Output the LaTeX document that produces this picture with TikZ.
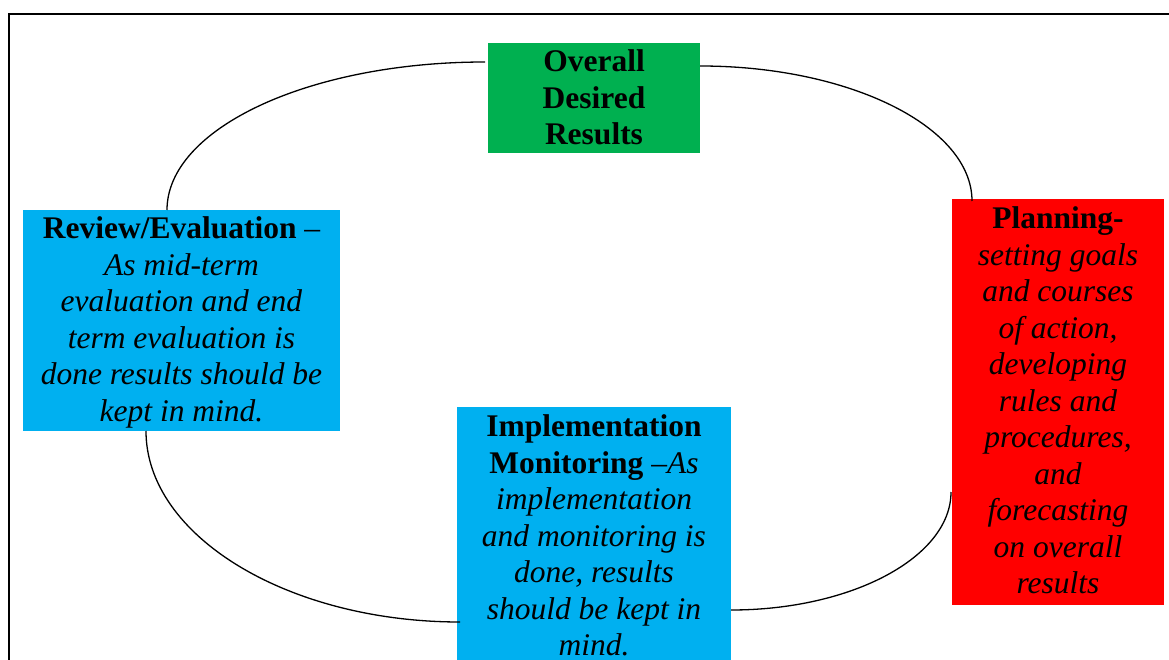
\documentclass[tikz,border=0pt]{standalone}
\usepackage{fontspec}
\setmainfont{Liberation Serif}
\definecolor{cgreen}{HTML}{00B050}
\definecolor{cblue}{HTML}{00B0F0}
\definecolor{cred}{HTML}{FF0000}
\begin{document}
\begin{tikzpicture}[x=1pt,y=-1pt,
  box/.style={anchor=north west, inner sep=0pt, outer sep=0pt},
  txt/.style={anchor=north, align=center, inner sep=0pt, font=\fontsize{31.5}{36.5}\selectfont},
  link/.style={line width=1.3pt}]
\clip (0,0) rectangle (1169,660);
\fill[white] (0,0) rectangle (1169,660);
\draw[line width=2pt] (9,700) -- (9,14) -- (1200,14);
% boxes
\node[box, fill=cgreen, minimum width=212pt, minimum height=110pt] (green) at (488,43) {};
\node[box, fill=cblue, minimum width=317pt, minimum height=221pt] (review) at (23,210) {};
\node[box, fill=cblue, minimum width=274pt, minimum height=280pt] (impl) at (457,407) {};
\node[box, fill=cred, minimum width=212pt, minimum height=406pt] (plan) at (952,199) {};
% texts
\node[txt] (tgreen) at (594,49.5) {\textbf{Overall}\\\textbf{Desired}\\\textbf{Results}};
\node[txt] (treview) at (181.5,216.5) {\textbf{Review/Evaluation} –\\\textit{As mid-term}\\\textit{evaluation and end}\\\textit{term evaluation is}\\\textit{done results should be}\\\textit{kept in mind.}};
\node[txt] (timpl) at (594,414.5) {\textbf{Implementation}\\\textbf{Monitoring} \textit{–As}\\\textit{implementation}\\\textit{and monitoring is}\\\textit{done, results}\\\textit{should be kept in}\\\textit{mind.}};
\node[txt] (tplan) at (1058,206.5) {\textbf{Planning-}\\\textit{setting goals}\\\textit{and courses}\\\textit{of action,}\\\textit{developing}\\\textit{rules and}\\\textit{procedures,}\\\textit{and}\\\textit{forecasting}\\\textit{on overall}\\\textit{results}};
% connector ends
\coordinate (gL) at (485,62);
\coordinate (gR) at (700,66);
\coordinate (rT) at (167,210);
\coordinate (rB) at (146,431);
\coordinate (iL) at (460,622);
\coordinate (iR) at (731,610);
\coordinate (pT) at (972,201);
\coordinate (pB) at (951,492);
% connectors
\draw[link] (gL) .. controls (309.5,62) and (167,128.3) .. (rT);
\draw[link] (gR) .. controls (850,66) and (972,127) .. (pT);
\draw[link] (rB) .. controls (146,536) and (288,622) .. (iL);
\draw[link] (iR) .. controls (852,610) and (951,557) .. (pB);
\end{tikzpicture}
\end{document}
